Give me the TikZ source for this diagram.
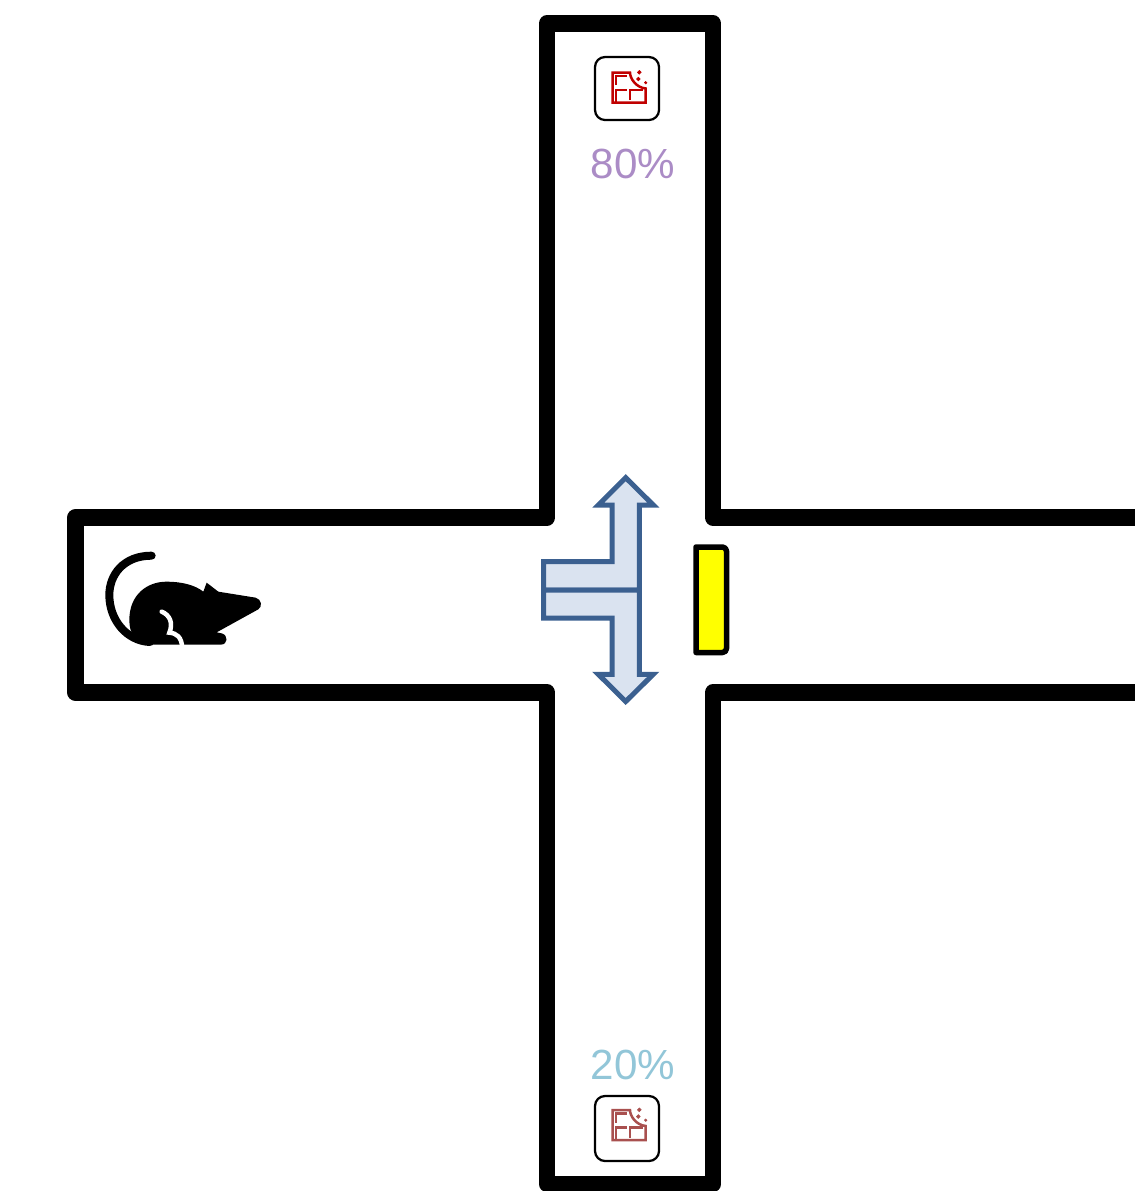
\documentclass[tikz,border=0pt]{standalone}
\usepackage{fontspec}
\setmainfont{Liberation Sans}
\usepackage{xcolor}
\definecolor{armfill}{HTML}{DAE3F0}
\definecolor{armline}{HTML}{3B6090}
\definecolor{highlabel}{HTML}{AB8CC6}
\definecolor{lowlabel}{HTML}{92C6D8}
\definecolor{highfood}{HTML}{C00000}
\definecolor{lowfood}{HTML}{A9504F}
\definecolor{doorfill}{HTML}{FFFF00}
\tikzset{
  wall/.style={line width=0.33cm,line join=round},
  armshape/.style={draw=armline,fill=armfill,line width=0.1cm,line join=miter},
  rewardlabel/.style={font=\fontsize{24}{24}\selectfont,inner sep=0pt},
  foodbox/.style={draw,line width=0.045cm,rounded corners=0.2cm,fill=white},
  choc/.pic={
    \draw[pic actions,fill=none,line width=0.05cm] (-15.5,-16) -- (2,-16) .. controls (2,-10) and (8,-1) .. (17.7,0) -- (17.7,14.2) -- (-15.5,14.2) -- cycle;
    \draw[pic actions,fill=none,line width=0.05cm] (-12,-3.5) -- (-12,-12.5) -- (-1.3,-12.5);
    \draw[pic actions,fill=none,line width=0.05cm] (-12,14.2) -- (-12,1.5) -- (-1.3,1.5) (2,11.5) -- (2,1.5) -- (15.3,1.5);
    \fill[pic actions] (11.3,-16.2) circle (1.8);
    \fill[pic actions] (10.3,-9.5) circle (1.8);
    \fill[pic actions] (17.7,-5.8) circle (1.2);
  }
}
\begin{document}
\begin{tikzpicture}[x=0.02cm,y=-0.02cm]

\useasboundingbox (0,0) rectangle (1135,1191);

\draw[wall] (1150,517.5) -- (713,517.5) -- (713,23.5) -- (547,23.5) -- (547,517.5) -- (75.5,517.5) -- (75.5,692.5) -- (547,692.5) -- (547,1184) -- (713,1184) -- (713,692.5) -- (1150,692.5);

% arms of the choice cue
\draw[armshape] (625.7,477.7) -- (653.3,505) -- (639.3,505) -- (639.3,590) -- (543.7,590) -- (543.7,561.7) -- (612,561.7) -- (612,505) -- (598.3,505) -- cycle;
\draw[armshape] (625.7,701.5) -- (653.3,674.3) -- (639.3,674.3) -- (639.3,590) -- (543.7,590) -- (543.7,618) -- (612,618) -- (612,674.3) -- (598.3,674.3) -- cycle;

\draw[line width=0.11cm,fill=doorfill,line join=round] (696,652.5) -- (696,547) -- (722,547) [rounded corners=0.08cm] -- (726.5,547) -- (726.5,652.5) [sharp corners] -- cycle;

% top reward
\draw[foodbox] (595,57) rectangle (659,120);
\pic[draw=highfood,fill=highfood] at (628,88.5) {choc};
\node[rewardlabel,text=highlabel] (high) at (633,163.5) {80\%};

% bottom reward
\draw[foodbox] (595,1096) rectangle (659,1161);
\pic[draw=lowfood,fill=lowfood] at (628,1126) {choc};
\node[rewardlabel,text=lowlabel] (low) at (633,1065) {20\%};

% rat
\begin{scope}[shift={(90,540)},x=0.00667cm,y=-0.00667cm]
\draw[line width=0.16cm,line cap=round] (185,47) .. controls (100,47) and (58,105) .. (58,165) .. controls (58,240) and (110,303) .. (180,306);
\fill (118,240) .. controls (118,165) and (170,125) .. (230,125) .. controls (275,125) and (315,135) .. (340,155) -- (350,128) -- (385,155) -- (497,173) .. controls (515,178) and (518,200) .. (505,208) -- (380,277) -- (395,280) .. controls (415,285) and (415,314) .. (392,314) -- (170,314) .. controls (135,305) and (118,280) .. (118,240) -- cycle;
\draw[white,line width=0.09cm,line cap=round] (215,215) .. controls (240,225) and (250,250) .. (238,278) .. controls (260,280) and (275,290) .. (277,325);
\end{scope}

\end{tikzpicture}
\end{document}
